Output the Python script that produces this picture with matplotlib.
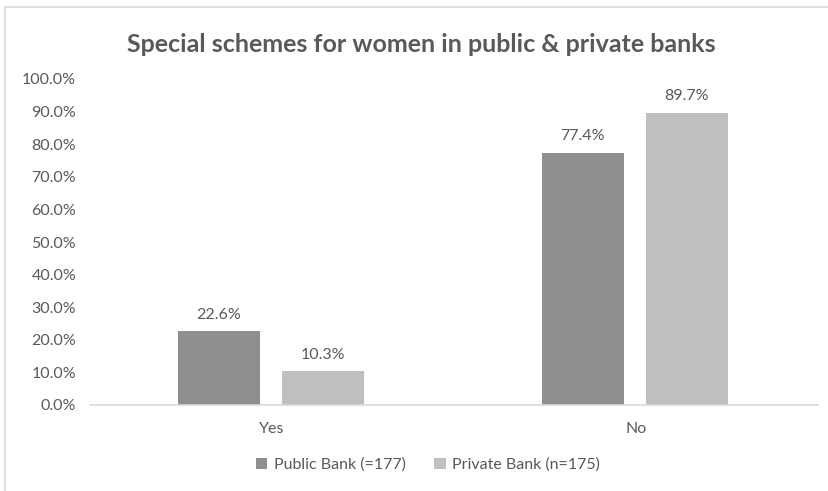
import numpy as np
import matplotlib.pyplot as plt
from matplotlib.patches import Rectangle

categories = ['Yes', 'No']
public_bank = [22.6, 77.4]
private_bank = [10.3, 89.7]
series_names = ['Public Bank (=177)', 'Private Bank (n=175)']
yticks = [0, 10, 20, 30, 40, 50, 60, 70, 80, 90, 100]

plt.rcParams['font.family'] = ['Lato', 'DejaVu Sans']
text_col = '#595959'

fig = plt.figure(figsize=(8.29, 4.91), dpi=100)
ax = fig.add_axes([90 / 829, 86 / 491, 728 / 829, 326 / 491])

# light chart border
fig.patches.append(Rectangle((5 / 829, -0.1), 1.0, (491 - 7) / 491 + 0.1,
                             transform=fig.transFigure, fill=False,
                             edgecolor='#d9d9d9', linewidth=1.2))

x = np.arange(len(categories))
w = 0.225
b1 = ax.bar(x - 0.146, public_bank, w, color='#8f8f8f', label=series_names[0])
b2 = ax.bar(x + 0.139, private_bank, w, color='#bfbfbf', label=series_names[1])

for bars in (b1, b2):
    for rect in bars:
        h = rect.get_height()
        ax.text(rect.get_x() + rect.get_width() / 2, h + 3, f'{h:.1f}%',
                ha='center', va='bottom', fontsize=11.5, color=text_col)

ax.set_xlim(-0.5, 1.5)
ax.set_ylim(0, 100)
ax.set_yticks(yticks)
ax.set_yticklabels([f'{v:.1f}%' for v in yticks])
ax.set_xticks(x)
ax.set_xticklabels(categories)
ax.tick_params(axis='both', length=0, labelsize=11.5, colors=text_col)
ax.tick_params(axis='y', pad=10)
ax.tick_params(axis='x', pad=12)
for s in ['top', 'right', 'left']:
    ax.spines[s].set_visible(False)
ax.spines['bottom'].set_color('#d9d9d9')
ax.spines['bottom'].set_linewidth(1.2)

fig.text(421 / 829, 1 - 45 / 491, 'Special schemes for women in public & private banks',
         ha='center', va='center', fontsize=18, fontweight='bold', color=text_col)

leg = fig.legend(loc='center', bbox_to_anchor=(428 / 829, 1 - 465 / 491), ncol=2,
                 frameon=False, fontsize=11.5, handlelength=0.7, handleheight=0.7,
                 columnspacing=1.8, handletextpad=0.4)
for t in leg.get_texts():
    t.set_color(text_col)

fig.savefig('out.png', dpi=100)
